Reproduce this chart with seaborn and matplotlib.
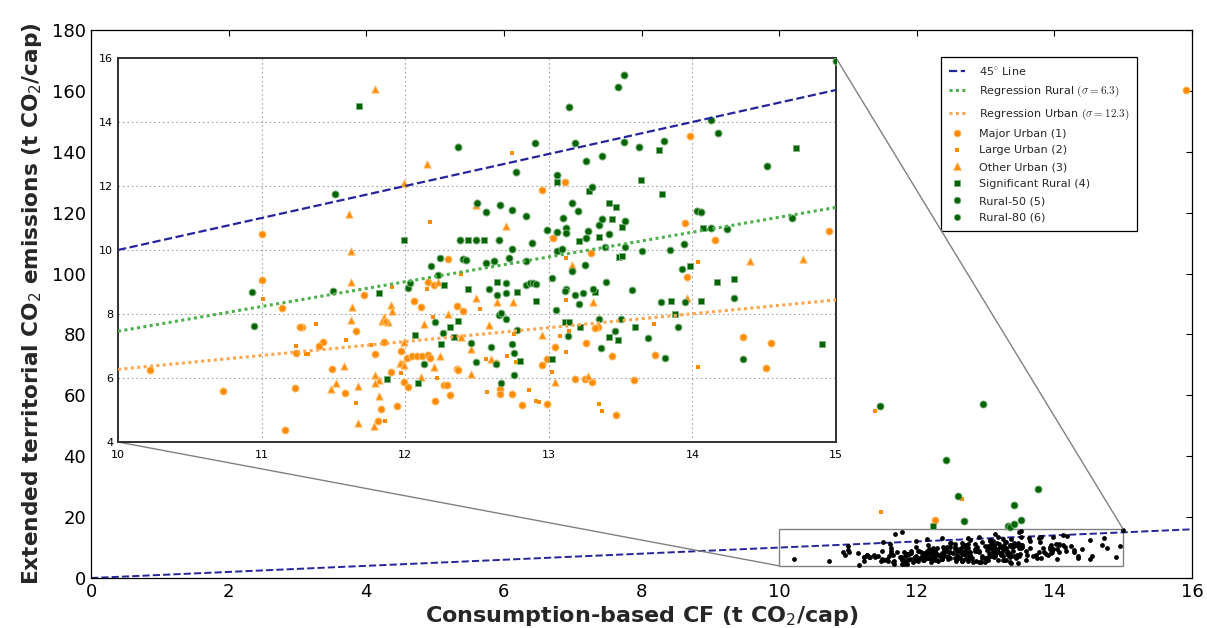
import matplotlib
matplotlib.use("Agg")
import numpy as np
import pandas as pd
import matplotlib.pyplot as plt
import seaborn as sns
from matplotlib.lines import Line2D
from matplotlib.font_manager import FontProperties
from mpl_toolkits.axes_grid1.inset_locator import mark_inset

# ---------------- data (inset, t CO2/cap) ----------------
major_urban_x = [13.98, 13.11, 12.95, 11.00, 13.03, 13.95, 14.16, 14.95, 13.29, 13.96, 14.35, 14.55, 14.51,
                 13.59, 13.47, 13.44, 13.26, 13.18, 13.25, 13.30, 13.04, 12.95, 12.99, 12.99, 12.81, 12.74,
                 12.66, 12.66, 12.63, 12.40, 13.34, 13.32, 13.74, 11.71, 12.06, 12.11, 11.28, 11.66, 11.85,
                 11.43, 11.40, 11.79, 11.97, 12.01, 12.05, 12.08, 12.12, 12.16, 12.17, 11.49, 11.90, 11.99,
                 12.02, 12.27, 12.29, 12.31, 12.21, 11.58, 11.83, 11.94, 11.81, 10.22, 10.73, 11.16, 11.23,
                 11.24, 11.27, 11.14, 11.00, 11.98, 12.16, 12.20, 12.30, 12.36, 12.36, 12.37]
major_urban_y = [13.56, 12.12, 11.88, 10.50, 10.38, 10.83, 10.31, 10.60, 9.90, 9.17, 7.27, 7.09, 6.32,
                 5.94, 4.83, 6.68, 7.10, 5.96, 5.96, 5.87, 6.98, 6.42, 6.60, 5.18, 5.17, 5.50,
                 5.66, 5.51, 6.46, 8.08, 7.58, 7.55, 6.72, 8.58, 8.40, 8.22, 7.60, 7.48, 7.13,
                 7.13, 7.00, 6.74, 6.84, 6.63, 6.68, 6.69, 6.70, 6.71, 6.62, 6.27, 6.19, 5.87,
                 5.73, 5.77, 5.78, 5.47, 5.28, 5.52, 5.03, 5.11, 4.67, 6.24, 5.60, 4.38, 5.68,
                 6.77, 7.59, 8.19, 9.07, 6.44, 9.00, 8.89, 9.72, 8.26, 6.27, 6.25]

large_urban_x = [12.74, 12.17, 13.12, 12.39, 14.04, 13.73, 14.04, 13.35, 13.37, 13.12, 13.02, 12.91, 12.93,
                 12.86, 12.57, 12.77, 12.71, 12.56, 12.52, 13.08, 13.14, 13.12, 11.38, 12.19, 11.59, 11.31,
                 11.76, 11.97, 12.22, 11.66, 11.86, 11.24, 11.32, 11.01, 11.91, 12.15, 12.76]
large_urban_y = [13.03, 10.87, 9.76, 9.24, 9.62, 7.70, 6.33, 5.20, 4.98, 6.81, 6.20, 5.28, 5.25,
                 5.63, 5.56, 6.49, 6.68, 6.59, 8.17, 7.31, 7.47, 8.44, 7.69, 7.90, 7.19, 6.74,
                 7.03, 6.16, 6.01, 5.22, 4.65, 7.01, 6.74, 8.47, 8.84, 8.79, 7.36]

other_urban_x = [11.79, 12.15, 11.99, 11.61, 12.49, 12.70, 13.16, 14.40, 14.77, 13.96, 13.27, 13.04, 12.46,
                 12.60, 12.46, 12.58, 12.95, 13.31, 12.75, 12.64, 12.49, 11.63, 11.90, 11.91, 11.62, 11.85,
                 11.84, 11.88, 11.86, 12.13, 12.30, 11.99, 12.24, 11.96, 11.99, 12.20, 11.57, 11.79, 11.82,
                 11.79, 12.11, 11.48, 11.52, 11.67, 11.82, 11.67, 11.78, 11.62, 11.62, 12.23, 12.39]
other_urban_y = [15.02, 12.68, 12.10, 11.13, 11.41, 10.76, 9.53, 9.67, 9.73, 8.51, 6.07, 5.88, 6.12,
                 6.59, 6.91, 7.67, 7.35, 8.37, 8.37, 8.38, 8.50, 8.21, 8.29, 8.10, 7.80, 7.92,
                 7.78, 7.75, 7.82, 7.69, 8.00, 7.13, 6.68, 6.46, 6.41, 6.33, 6.36, 6.09, 5.95,
                 5.85, 6.02, 5.65, 5.83, 5.74, 5.43, 4.58, 4.51, 9.97, 9.01, 9.01, 7.28]

sig_rural_x = [11.68, 11.99, 12.44, 12.55, 14.72, 13.77, 13.06, 13.64, 13.28, 13.79, 13.42, 13.47, 13.44,
               13.51, 13.21, 13.35, 14.07, 12.64, 13.49, 13.51, 13.98, 14.17, 14.29, 14.06, 13.85, 13.88,
               12.80, 13.02, 13.11, 13.14, 13.22, 13.42, 13.48, 13.32, 12.91, 12.44, 12.78, 11.82, 12.07,
               12.25, 11.87, 12.09, 12.27, 12.37, 12.31, 12.34, 13.60, 14.90]
sig_rural_y = [14.49, 10.30, 10.31, 10.30, 13.18, 13.12, 12.12, 12.19, 11.84, 11.75, 11.46, 11.34, 10.97,
               10.72, 10.29, 10.42, 10.68, 8.99, 9.78, 9.82, 9.51, 9.00, 9.09, 8.40, 8.42, 8.00,
               6.52, 6.60, 7.74, 7.74, 7.59, 7.29, 7.18, 8.68, 8.42, 8.78, 8.68, 8.67, 7.34,
               7.06, 5.96, 5.84, 8.89, 7.77, 7.59, 7.29, 7.58, 7.06]

rural50_x = [15.00, 13.52, 13.48, 13.14, 14.13, 14.18, 12.37, 12.90, 13.18, 13.52, 13.63, 13.80, 14.52,
             12.77, 13.26, 13.37, 13.06, 13.30, 11.51, 12.50, 12.56, 12.66, 12.74, 12.84, 13.20, 13.10,
             13.53, 13.35, 13.12, 12.99, 13.06, 13.12, 13.27, 13.42, 13.26, 14.03, 14.06, 14.13, 14.24,
             14.69, 13.94, 12.88, 12.38, 12.49, 12.65, 13.16, 13.37, 12.74, 13.06, 13.09, 12.40, 12.42,
             12.62, 12.72, 12.56, 12.84, 13.16, 13.25]
rural50_y = [15.90, 15.46, 15.09, 14.47, 14.07, 13.65, 13.23, 13.35, 13.33, 13.37, 13.21, 13.40, 12.62,
             12.45, 12.77, 12.95, 12.35, 11.98, 11.75, 11.47, 11.18, 11.40, 11.24, 11.05, 11.22, 11.01,
             10.92, 10.78, 10.69, 10.63, 10.56, 10.52, 10.58, 10.51, 10.38, 11.23, 11.18, 10.68, 10.66,
             11.00, 10.18, 10.21, 10.31, 10.31, 10.30, 11.47, 10.98, 10.02, 9.98, 10.02, 9.73, 9.68,
             9.67, 9.76, 9.58, 9.66, 9.35, 9.53]

rural80_x = [13.02, 12.70, 12.84, 12.87, 12.89, 12.91, 12.58, 13.12, 13.31, 13.39, 13.53, 13.65, 13.40,
             13.58, 13.84, 13.93, 14.29, 13.78, 13.95, 13.90, 13.69, 13.81, 14.35, 12.67, 12.76, 12.49,
             12.63, 12.76, 12.74, 12.60, 12.46, 12.65, 12.67, 12.70, 13.13, 13.35, 13.50, 13.46, 13.36,
             13.05, 13.24, 13.18, 13.21, 13.11, 12.64, 12.70, 12.78, 10.93, 10.95, 11.50, 12.21, 12.26,
             12.13, 12.02, 12.03, 12.18, 12.23, 12.24]
rural80_y = [9.12, 8.96, 8.92, 8.98, 8.98, 8.93, 8.78, 8.78, 8.78, 10.08, 10.09, 9.96, 9.00,
             8.76, 9.99, 9.39, 8.49, 8.38, 8.37, 7.59, 7.26, 6.63, 6.58, 5.85, 6.09, 6.50,
             6.43, 6.77, 7.07, 6.96, 7.08, 7.98, 8.04, 7.83, 7.30, 7.84, 7.85, 7.46, 6.95,
             8.12, 8.66, 8.59, 8.30, 8.72, 8.59, 8.66, 7.50, 8.68, 7.63, 8.72, 7.75, 7.41,
             6.43, 8.82, 8.98, 9.51, 9.21, 9.76]

# points outside the zoomed window (main axes only)
out_major_x = [15.91, 12.27]
out_major_y = [160.3, 19.1]
out_large_x = [11.40, 12.66, 11.48]
out_large_y = [55.0, 26.1, 21.8]
out_sig_x = [12.23]
out_sig_y = [17.0]
out_rural_x = [11.46, 12.96, 12.43, 12.60, 13.76, 13.42, 12.69, 13.52, 13.32, 13.35, 13.42]
out_rural_y = [56.4, 57.1, 38.9, 26.9, 29.2, 24.1, 18.7, 19.2, 17.2, 16.9, 17.7]

# 45 degree line and regression lines (end points)
diag_main = [0, 16]
diag_ins = [10, 15]
reg_x = [10, 15]
reg_rural_y = [7.46, 11.33]
reg_urban_y = [6.27, 8.44]

labels = ["45$^{\\circ}$ Line", "Regression Rural $(\\sigma=6.3)$", "Regression Urban $(\\sigma=12.3)$",
          "Major Urban (1)", "Large Urban (2)", "Other Urban (3)", "Significant Rural (4)",
          "Rural-50 (5)", "Rural-80 (6)"]

# ---------------- style ----------------
sns.set_style("white")
plt.rcParams["font.family"] = ["DejaVu Sans"]

ORANGE = "#ff8c00"
ORANGE_EDGE = "#ffc27a"
GREEN = "#006400"
GREEN_EDGE = "#7fb27f"
NAVY = "#24249c"
RGREEN = "#4cb04c"
RORANGE = "#ffa64d"

fig = plt.figure(figsize=(12.07, 6.28), dpi=100)
ax = fig.add_axes([0.0754, 0.0796, 0.9122, 0.8726])
axins = fig.add_axes([0.0978, 0.2962, 0.5949, 0.6115])

# ---------------- main axes ----------------
all_x = major_urban_x + large_urban_x + other_urban_x + sig_rural_x + rural50_x + rural80_x
all_y = major_urban_y + large_urban_y + other_urban_y + sig_rural_y + rural50_y + rural80_y
sns.lineplot(x=diag_main, y=diag_main, ax=ax, color=NAVY, linestyle="--", lw=1.4, legend=False)
sns.scatterplot(x=all_x, y=all_y, ax=ax, color="black", s=12, linewidth=0, legend=False, zorder=3)
sns.scatterplot(x=out_large_x, y=out_large_y, ax=ax, color=ORANGE, marker="s", s=8, linewidth=0, legend=False, zorder=3)
sns.scatterplot(x=out_major_x, y=out_major_y, ax=ax, color=ORANGE, marker="o", s=26,
                edgecolor=ORANGE_EDGE, linewidth=0.6, legend=False, zorder=3)
sns.scatterplot(x=out_sig_x, y=out_sig_y, ax=ax, color=GREEN, marker="s", s=24,
                edgecolor=GREEN_EDGE, linewidth=0.6, legend=False, zorder=3)
sns.scatterplot(x=out_rural_x, y=out_rural_y, ax=ax, color=GREEN, marker="o", s=26,
                edgecolor=GREEN_EDGE, linewidth=0.6, legend=False, zorder=3)

ax.set_xlim(0, 16)
ax.set_ylim(0, 180)
ax.set_xticks(range(0, 17, 2))
ax.set_yticks(range(0, 181, 20))
ax.tick_params(axis="both", direction="in", top=True, right=True, length=4, width=0.8,
               labelsize=13, colors="black")
for s in ax.spines.values():
    s.set_color("black")
    s.set_linewidth(0.9)
ax.set_xlabel("Consumption-based CF (t CO$_2$/cap)", fontsize=16, fontweight="bold", labelpad=2)
ax.set_ylabel("Extended territorial CO$_2$ emissions (t CO$_2$/cap)", fontsize=15.6, fontweight="bold", labelpad=6)

# ---------------- inset axes ----------------
sns.lineplot(x=diag_ins, y=diag_ins, ax=axins, color=NAVY, linestyle="--", lw=1.6, legend=False, zorder=4)
sns.lineplot(x=reg_x, y=reg_rural_y, ax=axins, color=RGREEN, linestyle=(0, (1, 1.1)), lw=2.2, legend=False, zorder=4)
sns.lineplot(x=reg_x, y=reg_urban_y, ax=axins, color=RORANGE, linestyle=(0, (1, 1.1)), lw=2.2, legend=False, zorder=4)

kw_o = dict(color=ORANGE, edgecolor=ORANGE_EDGE, linewidth=0.7, legend=False, zorder=3)
kw_g = dict(color=GREEN, edgecolor=GREEN_EDGE, linewidth=0.7, legend=False, zorder=3)
sns.scatterplot(x=major_urban_x, y=major_urban_y, ax=axins, marker="o", s=26, **kw_o)
sns.scatterplot(x=large_urban_x, y=large_urban_y, ax=axins, marker="s", s=7, color=ORANGE, linewidth=0, legend=False, zorder=3)
sns.scatterplot(x=other_urban_x, y=other_urban_y, ax=axins, marker="^", s=28, **kw_o)
sns.scatterplot(x=sig_rural_x, y=sig_rural_y, ax=axins, marker="s", s=24, **kw_g)
sns.scatterplot(x=rural50_x, y=rural50_y, ax=axins, marker="o", s=26, **kw_g)
sns.scatterplot(x=rural80_x, y=rural80_y, ax=axins, marker="o", s=24, **kw_g)

axins.set_xlim(10, 15)
axins.set_ylim(4, 16)
axins.set_xticks(range(10, 16))
axins.set_yticks(range(4, 17, 2))
axins.grid(True, linestyle=(0, (1.5, 2.5)), color="0.65", linewidth=0.8)
axins.tick_params(axis="both", direction="in", length=2.5, width=1, labelsize=8, colors="black")
axins.tick_params(axis="x", pad=6)
for s in axins.spines.values():
    s.set_color("#303030")
    s.set_linewidth(1.4)
axins.set_xlabel("")
axins.set_ylabel("")

mark_inset(ax, axins, loc1=3, loc2=1, fc="none", ec="0.5", lw=1.0)

# ---------------- legend ----------------
handles = [
    Line2D([], [], color=NAVY, linestyle="--", lw=1.6),
    Line2D([], [], color=RGREEN, linestyle=(0, (1, 1.1)), lw=2.2),
    Line2D([], [], color=RORANGE, linestyle=(0, (1, 1.1)), lw=2.2),
    Line2D([], [], color=ORANGE, marker="o", linestyle="", markersize=5, mec=ORANGE_EDGE, mew=0.6),
    Line2D([], [], color=ORANGE, marker="s", linestyle="", markersize=2.6, mew=0),
    Line2D([], [], color=ORANGE, marker="^", linestyle="", markersize=5.2, mec=ORANGE_EDGE, mew=0.6),
    Line2D([], [], color=GREEN, marker="s", linestyle="", markersize=4.6, mec=GREEN_EDGE, mew=0.6),
    Line2D([], [], color=GREEN, marker="o", linestyle="", markersize=4.8, mec=GREEN_EDGE, mew=0.6),
    Line2D([], [], color=GREEN, marker="o", linestyle="", markersize=4.6, mec=GREEN_EDGE, mew=0.6),
]
leg = ax.legend(handles, labels, loc="upper right", bbox_to_anchor=(0.955, 0.96),
                prop=FontProperties(family="DejaVu Sans", size=8, math_fontfamily="cm"),
                frameon=True, fancybox=False, framealpha=1, edgecolor="black",
                handlelength=1.5, handletextpad=1.2, labelspacing=0.62, borderpad=0.7, numpoints=1)
leg.get_frame().set_linewidth(0.9)

fig.savefig("out.png", dpi=100)
